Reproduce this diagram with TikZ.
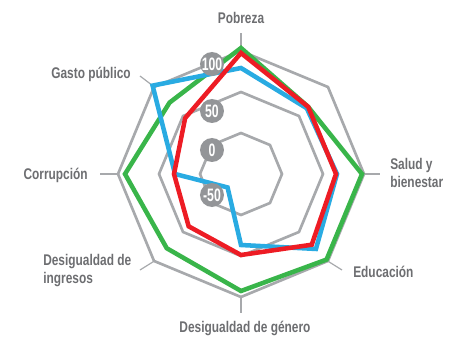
\documentclass[tikz,border=0pt]{standalone}
\usepackage{fontspec}
\setmainfont{Liberation Sans}[FakeStretch=0.77]
\newfontfamily\numfont{Liberation Sans}[FakeStretch=0.68]
\definecolor{gris}{HTML}{A7A9AC}
\definecolor{texto}{HTML}{6D6E71}
\definecolor{insignia}{HTML}{939598}
\definecolor{verde}{HTML}{39B54A}
\definecolor{rojo}{HTML}{ED1C24}
\definecolor{azul}{HTML}{29ABE2}
\begin{document}
\begin{tikzpicture}[x=0.75pt,y=0.75pt,line join=miter,
	ring/.style={draw=gris,line width=2pt},
	tick/.style={draw=gris,line width=0.9pt},
	serie/.style={line width=3.4pt},
	etiq/.style={text=texto,inner sep=0pt,align=left,font=\fontsize{11.6}{13.5}\selectfont\bfseries},
	badge/.style={circle,fill=insignia,text=white,minimum size=18pt,inner sep=0pt,font=\numfont\fontsize{13.5}{14}\selectfont\bfseries}]
	\useasboundingbox (-241,-162) rectangle (227,174);
	% anillos: 0 -> 41, 50 -> 82, 100 -> 123
	\foreach \r in {41,82,123}
		\draw[ring] (90:\r) \foreach \a in {45,0,...,-225} {-- (\a:\r)} -- cycle;
	% vertices exteriores y marcas
	\coordinate (vP) at (90:124);
	\coordinate (vS) at (0:122);
	\coordinate (vE) at (-45:124);
	\coordinate (vG) at (-90:122);
	\coordinate (vI) at (-135:124);
	\coordinate (vC) at (180:124);
	\coordinate (vA) at (135:125);
	\coordinate (tP) at (0,141);
	\coordinate (tS) at (139,0);
	\coordinate (tE) at (101,-96);
	\coordinate (tG) at (0,-139);
	\coordinate (tI) at (-101,-96);
	\coordinate (tC) at (-141,0);
	\coordinate (tA) at (-101,98);
	\foreach \n in {P,S,E,G,I,C,A}
		\draw[tick] (v\n) -- (t\n);
	% series
	\draw[serie,verde] (90:126) -- (45:95) -- (0:121) -- (-45:121) -- (-90:117) -- (-135:105) -- (180:116) -- (135:101) -- cycle;
	\draw[serie,azul] (90:106) -- (45:93) -- (0:96) -- (-45:106) -- (-90:71) -- (-135:19) -- (180:66) -- (135:125) -- cycle;
	\draw[serie,rojo] (90:121) -- (45:95) -- (0:95) -- (-45:100) -- (-90:81) -- (-135:74) -- (180:67) -- (135:79) -- cycle;
	% escala
	\node[badge] (b100) at (-29,110) {100};
	\node[badge] (b50) at (-29,63) {50};
	\node[badge] (b0) at (-29,24) {0};
	\node[badge] (bm50) at (-29,-21) {-50};
	% etiquetas
	\node[etiq,anchor=base] (pobreza) at (0,150) {Pobreza};
	\node[etiq,anchor=base west] (salud) at (149,-13) {Salud y\\bienestar};
	\node[etiq,anchor=base west] (educacion) at (112,-103) {Educación};
	\node[etiq,anchor=base] (genero) at (4,-158) {Desigualdad de género};
	\node[etiq,anchor=base west] (ingresos) at (-198,-109) {Desigualdad de\\ingresos};
	\node[etiq,anchor=base east] (corrupcion) at (-153,-6) {Corrupción};
	\node[etiq,anchor=base east] (gasto) at (-110,95) {Gasto público};
\end{tikzpicture}
\end{document}
